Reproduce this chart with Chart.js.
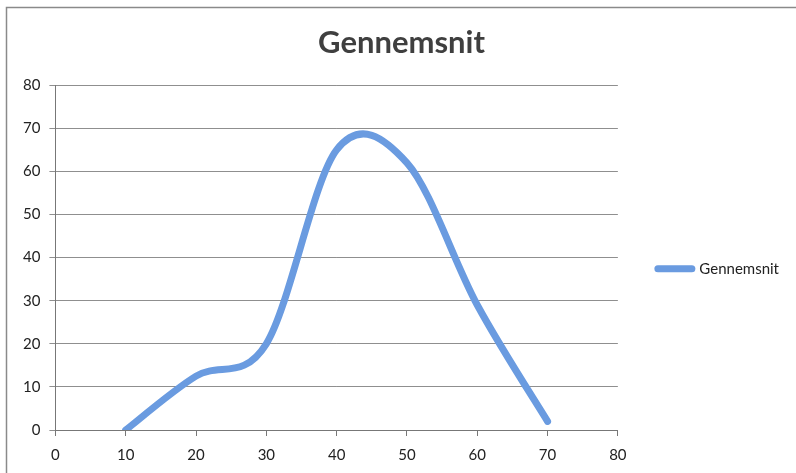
<!DOCTYPE html>
<html>
<head>
<meta charset="utf-8">
<script src="https://cdn.jsdelivr.net/npm/chart.js@4/dist/chart.umd.min.js"></script>
<style>
	html, body { margin: 0; padding: 0; background: #fff; }
	#gennemsnitChart { display: block; }
</style>
</head>
<body>
<canvas id="gennemsnitChart" width="796" height="473"></canvas>
<script>
// Data
const xValues = [ 10, 20, 30, 40, 50, 60, 70 ];
const yValues = [ 0, 12.5, 20, 65, 62, 29, 2 ];
const seriesName = 'Gennemsnit';
const chartTitle = 'Gennemsnit';
const axisMin = 0;
const axisMax = 80;
const axisStep = 10;

const lineColor = '#6a9be0';
const fontFamily = 'Lato, "Open Sans", sans-serif';

// White background and the scanned frame lines (top + left)
const framePlugin = {
	id: 'frame',
	beforeDraw( chart ) {
		const c = chart.ctx;
		c.save();
		c.fillStyle = '#fff';
		c.fillRect( 0, 0, chart.width, chart.height );
		c.strokeStyle = '#8a8a8a';
		c.lineWidth = 1.5;
		c.beginPath();
		c.moveTo( 6.5, chart.height + 5 );
		c.lineTo( 6.5, 7.5 );
		c.lineTo( chart.width + 5, 7.5 );
		c.stroke();
		c.restore();
	},
};

// Excel-style smoothing: uniform Catmull-Rom control points (1/6 of the
// neighbour span) instead of Chart.js' distance-weighted ones
const excelSmoothPlugin = {
	id: 'excelSmooth',
	beforeDatasetDraw( chart, args ) {
		const meta = args.meta;
		meta.dataset.updateControlPoints( chart.chartArea, meta.iScale.axis );
		const pts = meta.data;
		pts.forEach( ( p, i ) => {
			const prev = pts[ Math.max( i - 1, 0 ) ];
			const next = pts[ Math.min( i + 1, pts.length - 1 ) ];
			const dx = ( next.x - prev.x ) / 6;
			const dy = ( next.y - prev.y ) / 6;
			p.cp1x = p.x - dx;
			p.cp1y = p.y - dy;
			p.cp2x = p.x + dx;
			p.cp2y = p.y + dy;
		} );
	},
};

const ctx = document.getElementById( 'gennemsnitChart' ).getContext( '2d' );

new Chart( ctx, {
	type: 'line',
	data: {
		datasets: [
			{
				label: seriesName,
				data: xValues.map( ( x, i ) => ( { x, y: yValues[ i ] } ) ),
				borderColor: lineColor,
				backgroundColor: lineColor,
				borderWidth: 7,
				borderCapStyle: 'round',
				borderJoinStyle: 'round',
				pointRadius: 0,
				pointHoverRadius: 0,
				pointStyle: 'line',
				tension: 0.4,
				fill: false,
			},
		],
	},
	options: {
		responsive: false,
		animation: false,
		devicePixelRatio: 1,
		layout: {
			padding: { top: 24, left: 14, right: 7, bottom: -1 },
		},
		plugins: {
			title: {
				display: true,
				text: chartTitle,
				color: '#3f3f3f',
				font: { family: fontFamily, size: 31, weight: 'bold' },
				padding: { top: 0, bottom: 24 },
			},
			legend: {
				position: 'right',
				align: 'center',
				fullSize: false,
				// empty title only nudges the entry down to where Excel put it
				title: {
					display: true,
					text: '',
					font: { size: 12 },
					padding: 4,
				},
				labels: {
					usePointStyle: true,
					pointStyleWidth: 34,
					boxHeight: 7,
					color: '#222',
					font: { family: fontFamily, size: 15 },
					padding: 40,
					generateLabels( chart ) {
						return Chart.defaults.plugins.legend.labels
							.generateLabels( chart )
							.map( ( item ) => ( {
								...item,
								lineCap: 'round',
								lineWidth: 7,
								strokeStyle: lineColor,
							} ) );
					},
				},
			},
			tooltip: { enabled: false },
		},
		scales: {
			x: {
				type: 'linear',
				min: axisMin,
				max: axisMax,
				border: { display: true, color: '#777', width: 1 },
				grid: {
					drawOnChartArea: false,
					drawTicks: true,
					tickLength: 6,
					color: '#777',
				},
				ticks: {
					stepSize: axisStep,
					padding: 10,
					maxRotation: 0,
					autoSkip: false,
					color: '#222',
					font: { family: fontFamily, size: 15 },
				},
			},
			y: {
				min: axisMin,
				max: axisMax,
				border: { display: true, color: '#777', width: 1 },
				grid: {
					color: '#8f8f8f',
					tickLength: 6,
				},
				ticks: {
					stepSize: axisStep,
					padding: 9,
					color: '#222',
					font: { family: fontFamily, size: 15 },
				},
			},
		},
	},
	plugins: [ framePlugin, excelSmoothPlugin ],
} );
</script>
</body>
</html>
